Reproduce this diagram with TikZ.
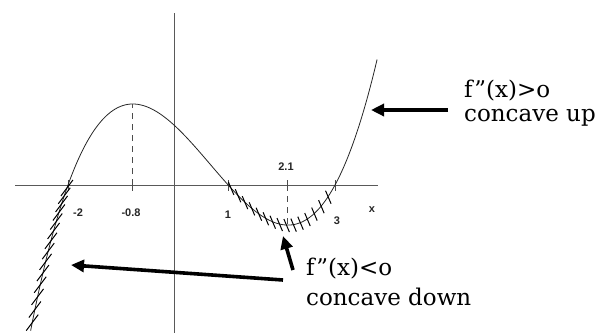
\documentclass[tikz,border=0pt]{standalone}
\usepackage{fontspec}
\setmainfont{DejaVu Serif}
\newfontfamily\axfont{Liberation Sans}
\usetikzlibrary{arrows.meta}
\begin{document}
\begin{tikzpicture}[x=1pt,y=-1pt,
  declare function={px(\t)=174.8+53.4*\t; py(\t)=185-9.87*(\t+2)*(\t-1)*(\t-3);},
  axis/.style={draw=black!65, line width=0.9pt},
  curve/.style={draw=black!85, line width=0.8pt},
  hatch/.style={draw=black, line width=1pt},
  tickmark/.style={draw=black!70, line width=0.8pt},
  dropline/.style={draw=black!70, line width=0.8pt, dash pattern=on 6pt off 5pt},
  bigarrow/.style={draw=black, line width=3.6pt, -{Triangle[length=13pt,width=12pt]}},
  note/.style={font=\fontsize{23}{24}\selectfont, anchor=north west, inner sep=0pt, align=left},
  ticklabel/.style={font=\axfont\bfseries\fontsize{11}{13}\selectfont, inner sep=0pt, text=black!85}]
\useasboundingbox (0,0) rectangle (609,333);
% axes
\coordinate (xl) at (15,185);
\coordinate (xr) at (378,185);
\coordinate (yt) at (174,13);
\coordinate (yb) at (174,333);
\draw[axis] (xl) -- (xr);
\draw[axis] (yt) -- (yb);
% ticks
\foreach \v/\n in {-2/m2,-0.8/m08,1/p1,2.1/p21,3/p3} {
  \coordinate (t\n a) at ({px(\v)},180);
  \coordinate (t\n b) at ({px(\v)},191);
  \draw[tickmark] (t\n a) -- (t\n b);
}
% curve
\draw[curve] plot[domain=-2.7:3.79,samples=140,smooth] ({px(\x)},{py(\x)});
% dashed drop lines
\coordinate (pk) at ({px(-0.8)},{py(-0.8)});
\coordinate (pkb) at ({px(-0.8)},185);
\draw[dropline] (pkb) -- (pk);
\coordinate (mn) at ({px(2.1)},{py(2.1)});
\coordinate (mnb) at ({px(2.1)},185);
\draw[dropline] (mnb) -- (mn);
% hatching
\foreach \t in {-2.02,-2.07,...,-2.68} {
  \draw[hatch] ({px(\t)-6},{py(\t)+8}) -- ({px(\t)+6},{py(\t)-8});
}
\foreach \t in {1.05,1.18,...,2.95} {
  \draw[hatch] ({px(\t)-2.5},{py(\t)-6}) -- ({px(\t)+3},{py(\t)+7});
}
% tick labels
\node[ticklabel] (lm2) at (78,213) {-2};
\node[ticklabel] (lm08) at (131,213) {-0.8};
\node[ticklabel] (lp1) at (228,215) {1};
\node[ticklabel] (lp3) at (337,221) {3};
\node[ticklabel] (lp21) at (286,167) {2.1};
\node[ticklabel] (lx) at (372,210) {x};
% notes
\node[note] (up) at (464,80) {f"(x)>o\\concave up};
\node[note, font=\fontsize{23}{30}\selectfont] (dn) at (306,258) {f"(x)<o\\concave down};
% arrows
\coordinate (a1s) at (448,110);
\coordinate (a1e) at (371,110);
\draw[bigarrow] (a1s) -- (a1e);
\coordinate (a2s) at (283,280);
\coordinate (a2e) at (71,265);
\draw[bigarrow] (a2s) -- (a2e);
\coordinate (a3s) at (293,270);
\coordinate (a3e) at (283,236);
\draw[bigarrow] (a3s) -- (a3e);
\end{tikzpicture}
\end{document}
